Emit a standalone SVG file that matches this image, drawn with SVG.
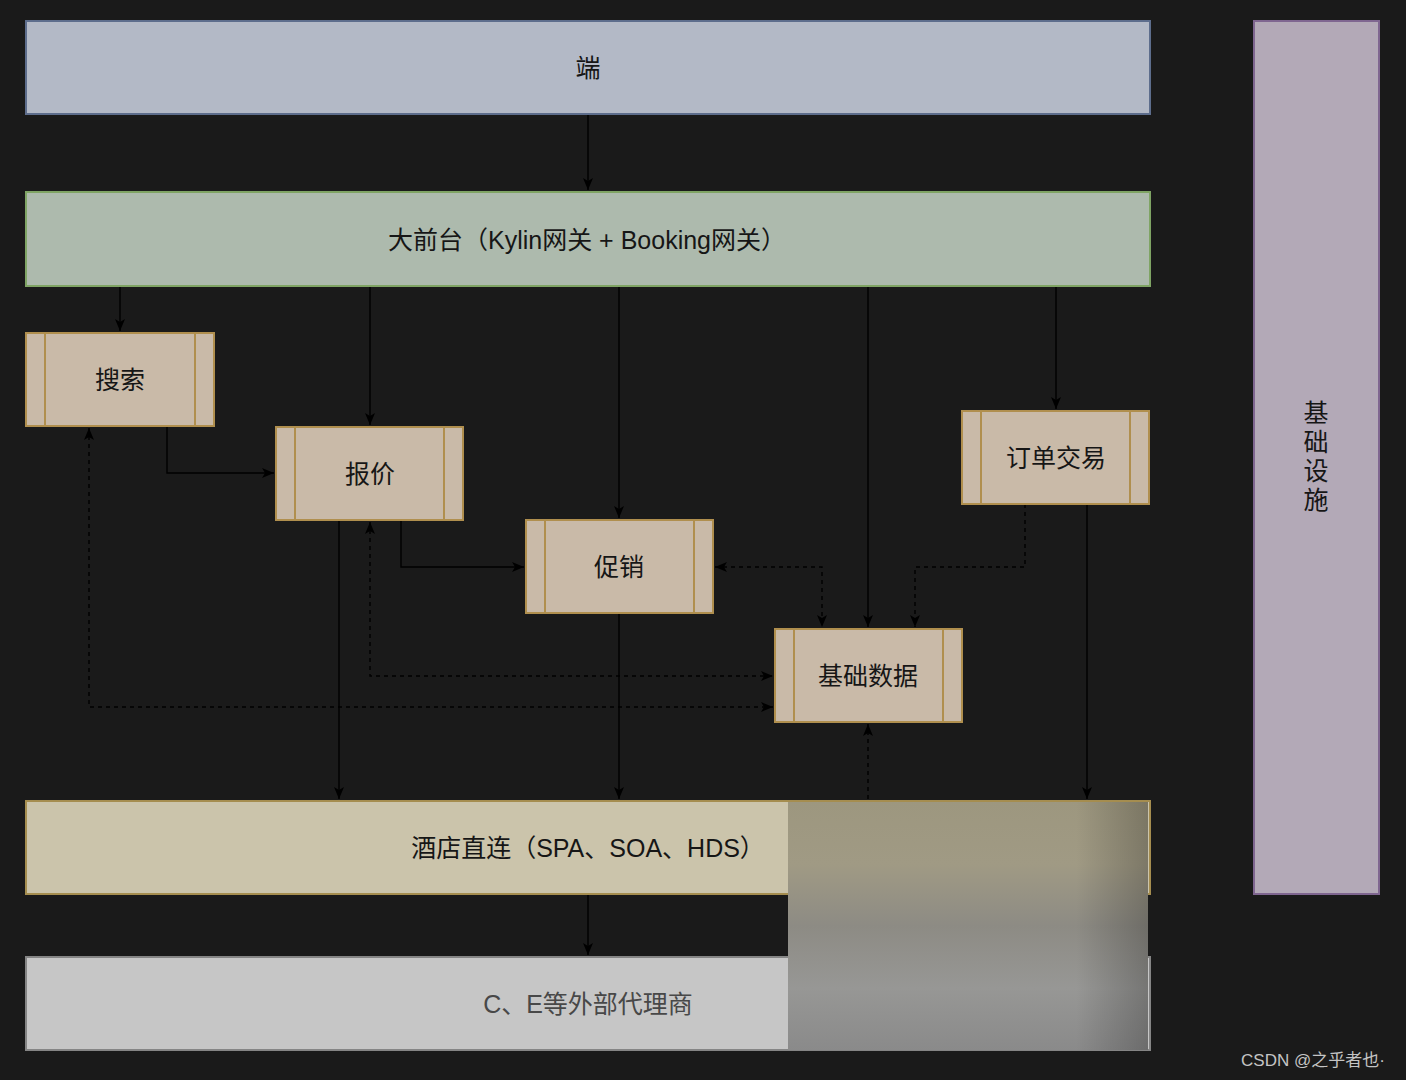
<svg xmlns="http://www.w3.org/2000/svg" width="1406" height="1080" viewBox="0 0 1406 1080">
<style>
text{font-family:"Liberation Sans","Noto Sans CJK SC",sans-serif;font-size:25px;fill:#161616;text-anchor:middle;dominant-baseline:central}
.proc{fill:#c9baa8;stroke:#b08f4e;stroke-width:2}
.inner{stroke:#b08f4e;stroke-width:2}
.c{fill:none;stroke:#000;stroke-width:1.4}
.d{stroke-dasharray:4 4}
</style>
<defs>
<marker id="a" markerUnits="userSpaceOnUse" markerWidth="14" markerHeight="14" viewBox="0 0 14 14" refX="13" refY="7" orient="auto-start-reverse">
<path d="M1,2 L13,7 L1,12 L4,7 Z" fill="#000"/>
</marker>
<linearGradient id="blur" x1="0" y1="0" x2="0" y2="1">
<stop offset="0" stop-color="#9d977f"/>
<stop offset="0.25" stop-color="#a09a84"/>
<stop offset="0.5" stop-color="#8d8b84"/>
<stop offset="0.75" stop-color="#979795"/>
<stop offset="1" stop-color="#8a8a8a"/>
</linearGradient>
<linearGradient id="blurR" x1="0" y1="0" x2="1" y2="0">
<stop offset="0" stop-color="#000" stop-opacity="0"/>
<stop offset="0.8" stop-color="#000" stop-opacity="0"/>
<stop offset="1" stop-color="#000" stop-opacity="0.22"/>
</linearGradient>
</defs>
<rect width="1406" height="1080" fill="#1a1a1a"/>

<g id="connectors">
<path class="c" d="M588,114 V190" marker-end="url(#a)"/>
<path class="c" d="M120,286 V331" marker-end="url(#a)"/>
<path class="c" d="M370,286 V425" marker-end="url(#a)"/>
<path class="c" d="M619,286 V518" marker-end="url(#a)"/>
<path class="c" d="M868,286 V627" marker-end="url(#a)"/>
<path class="c" d="M1056,286 V409" marker-end="url(#a)"/>
<path class="c" d="M167,426 V473 H274" marker-end="url(#a)"/>
<path class="c" d="M401,520 V567 H524" marker-end="url(#a)"/>
<path class="c" d="M339,520 V799" marker-end="url(#a)"/>
<path class="c" d="M619,613 V799" marker-end="url(#a)"/>
<path class="c" d="M1087,504 V799" marker-end="url(#a)"/>
<path class="c" d="M588,894 V955" marker-end="url(#a)"/>
<path class="c d" d="M715,567 H822 V627" marker-start="url(#a)" marker-end="url(#a)"/>
<path class="c d" d="M1025,504 V567 H915 V627" marker-end="url(#a)"/>
<path class="c d" d="M370,522 V676 H773" marker-start="url(#a)" marker-end="url(#a)"/>
<path class="c d" d="M89,428 V707 H773" marker-start="url(#a)" marker-end="url(#a)"/>
<path class="c d" d="M868,799 V724" marker-end="url(#a)"/>
</g>

<g id="n-duan">
<rect x="26" y="21" width="1124" height="93" fill="#b3b9c6" stroke="#5d6d8c" stroke-width="2"/>
<text x="588" y="68">端</text>
</g>
<g id="n-qiantai">
<rect x="26" y="192" width="1124" height="94" fill="#adbaad" stroke="#7fa464" stroke-width="2"/>
<text x="587" y="240">大前台（Kylin网关 + Booking网关）</text>
</g>
<g id="n-infra">
<rect x="1254" y="21" width="125" height="873" fill="#b3a9b7" stroke="#7f6690" stroke-width="2"/>
<text x="1316" y="413">基</text>
<text x="1316" y="442">础</text>
<text x="1316" y="471">设</text>
<text x="1316" y="500">施</text>
</g>
<g id="n-sousuo">
<rect class="proc" x="26" y="333" width="188" height="93"/>
<path class="inner" d="M45,333 V426 M195,333 V426"/>
<text x="120" y="380">搜索</text>
</g>
<g id="n-baojia">
<rect class="proc" x="276" y="427" width="187" height="93"/>
<path class="inner" d="M295,427 V520 M444,427 V520"/>
<text x="370" y="474">报价</text>
</g>
<g id="n-cuxiao">
<rect class="proc" x="526" y="520" width="187" height="93"/>
<path class="inner" d="M545,520 V613 M694,520 V613"/>
<text x="619" y="567">促销</text>
</g>
<g id="n-jichushuju">
<rect class="proc" x="775" y="629" width="187" height="93"/>
<path class="inner" d="M794,629 V722 M943,629 V722"/>
<text x="868" y="676">基础数据</text>
</g>
<g id="n-dingdan">
<rect class="proc" x="962" y="411" width="187" height="93"/>
<path class="inner" d="M981,411 V504 M1130,411 V504"/>
<text x="1056" y="458">订单交易</text>
</g>
<g id="n-zhilian">
<rect x="26" y="801" width="1124" height="93" fill="#cbc4ab" stroke="#a58d4f" stroke-width="2"/>
<text x="588" y="848">酒店直连（SPA、SOA、HDS）</text>
</g>
<g id="n-daili">
<rect x="26" y="957" width="1124" height="93" fill="#c6c6c6" stroke="#858585" stroke-width="2"/>
<text x="588" y="1004" style="fill:#484848">C、E等外部代理商</text>
</g>

<rect x="788" y="802" width="360" height="248" fill="url(#blur)"/>
<rect x="788" y="802" width="360" height="248" fill="url(#blurR)"/>

<text x="1313" y="1060" style="font-size:17px;fill:#c4c4c4">CSDN @之乎者也·</text>
</svg>
